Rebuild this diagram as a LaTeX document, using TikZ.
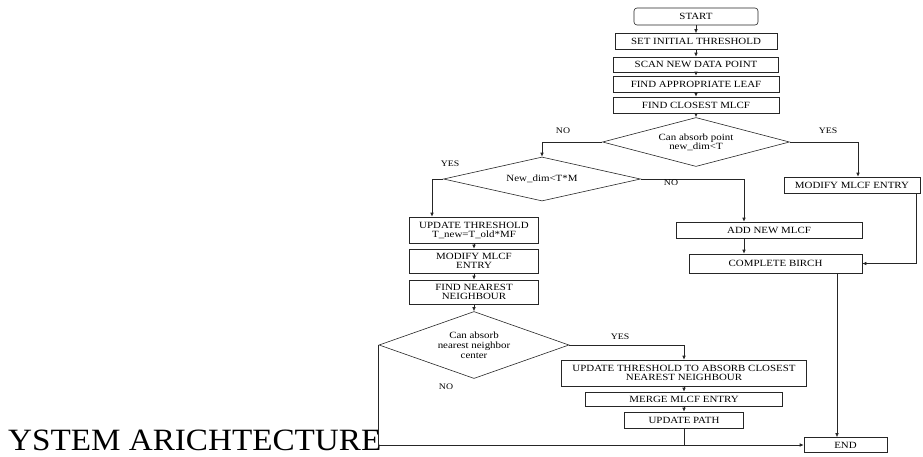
\documentclass[tikz,border=0pt]{standalone}
\usepackage{fontspec}
\setmainfont[FakeStretch=1.15]{Liberation Serif}
\newfontfamily\titlefont[FakeStretch=1.07]{Liberation Serif}
\usetikzlibrary{shapes.geometric,arrows.meta}

\begin{document}
\begin{tikzpicture}[x=1pt, y=-1pt,
    box/.style={draw=black!85, line width=0.6pt, inner sep=1pt, align=center,
        font=\fontsize{9.5}{9}\selectfont},
    dec/.style={draw=black!85, diamond, line width=0.6pt, inner sep=0pt, align=center,
        font=\fontsize{9.5}{9}\selectfont},
    lbl/.style={inner sep=0pt, font=\fontsize{8.5}{9}\selectfont},
    line/.style={draw=black!85, line width=0.6pt},
    >={Latex[length=4pt,width=3.5pt]}]
    \useasboundingbox (0,0) rectangle (923,456);

    % Title on the left
    \node[anchor=base west, inner sep=0pt, font=\titlefont\fontsize{31}{32}\selectfont]
        (title) at (8,450.5) {YSTEM ARICHTECTURE};

    % Top column
    \node[box, rounded corners=3pt, minimum width=124pt, minimum height=17pt] (start) at (696,16.5) {START};
    \node[box, minimum width=162pt, minimum height=16pt] (setthr) at (696,41.5) {SET INITIAL THRESHOLD};
    \node[box, minimum width=165pt, minimum height=15pt] (scan) at (696,64.5) {SCAN NEW DATA POINT};
    \node[box, minimum width=166pt, minimum height=16pt] (leaf) at (696,84) {FIND APPROPRIATE LEAF};
    \node[box, minimum width=166pt, minimum height=16pt] (closest) at (696,105) {FIND CLOSEST MLCF};
    \node[dec, aspect=4, minimum width=187pt, minimum height=49pt] (canabsorb) at (696,142)
        {Can absorb point\\new\_dim<T};
    \foreach \a/\b in {start/setthr, setthr/scan, scan/leaf, leaf/closest, closest/canabsorb} {
        \draw[line, ->] (\a) -- (\b);
    }

    % Yes branch of the first test
    \node[box, minimum width=136pt, minimum height=16pt] (modify) at (852,185) {MODIFY MLCF ENTRY};
    \draw[line, ->] (canabsorb.east) -| ([xshift=6pt]modify.north);
    \node[lbl] (yes1) at (828,131) {YES};

    % No branch of the first test
    \node[dec, aspect=4.5, minimum width=197pt, minimum height=44pt] (newdim) at (542,179) {New\_dim<T*M};
    \draw[line, ->] (canabsorb.west) -| (newdim.north);
    \node[lbl] (no1) at (563,131) {NO};

    % New entry and end of BIRCH
    \node[box, minimum width=186pt, minimum height=16pt] (addnew) at (769,230) {ADD NEW MLCF};
    \node[box, minimum width=173pt, minimum height=19pt] (birch) at (775.5,263.5) {COMPLETE BIRCH};
    \draw[line, ->] (newdim.east) -| ([xshift=-25pt]addnew.north);
    \node[lbl] (no2) at (671,183) {NO};
    \draw[line, ->] ([xshift=-25pt]addnew.south) -- ([xshift=-25pt]addnew.south |- birch.north);
    \draw[line, ->] ([xshift=64pt]modify.south) |- (birch.east);

    % Left column
    \node[box, minimum width=129pt, minimum height=26pt] (updthr) at (474,230) {UPDATE THRESHOLD\\T\_new=T\_old*MF};
    \node[box, minimum width=129pt, minimum height=24pt] (modentry) at (474,261) {MODIFY MLCF\\ENTRY};
    \node[box, minimum width=129pt, minimum height=24pt] (nearest) at (474,292) {FIND NEAREST\\NEIGHBOUR};
    \node[dec, aspect=2.8, minimum width=190pt, minimum height=67pt, font=\fontsize{9.5}{10}\selectfont]
        (canmerge) at (474,345) {Can absorb\\nearest neighbor\\center};
    \draw[line, ->] (newdim.west) -| ([xshift=-42pt]updthr.north);
    \node[lbl] (yes2) at (450,164) {YES};
    \foreach \a/\b in {updthr/modentry, modentry/nearest, nearest/canmerge} {
        \draw[line, ->] (\a) -- (\b);
    }

    % Merge branch
    \node[box, minimum width=245pt, minimum height=26pt] (raise) at (684,373)
        {UPDATE THRESHOLD TO ABSORB CLOSEST\\NEAREST NEIGHBOUR};
    \node[box, minimum width=197pt, minimum height=14pt] (merge) at (684,399) {MERGE MLCF ENTRY};
    \node[box, minimum width=119pt, minimum height=16pt] (path) at (684,420) {UPDATE PATH};
    \draw[line, ->] (canmerge.east) -| (raise.north);
    \node[lbl] (yes3) at (620,337) {YES};
    \foreach \a/\b in {raise/merge, merge/path} {
        \draw[line, ->] (\a) -- (\b);
    }

    % End
    \node[box, minimum width=83pt, minimum height=15pt] (end) at (845.5,445) {END};
    \draw[line, ->] ([xshift=61.5pt]birch.south) -- ([xshift=61.5pt]birch.south |- end.north);
    \draw[line, ->] (canmerge.west) |- (end.west);
    \draw[line] (path.south) -- (path.south |- end.west);
    \node[lbl] (no3) at (446,387) {NO};
\end{tikzpicture}
\end{document}
